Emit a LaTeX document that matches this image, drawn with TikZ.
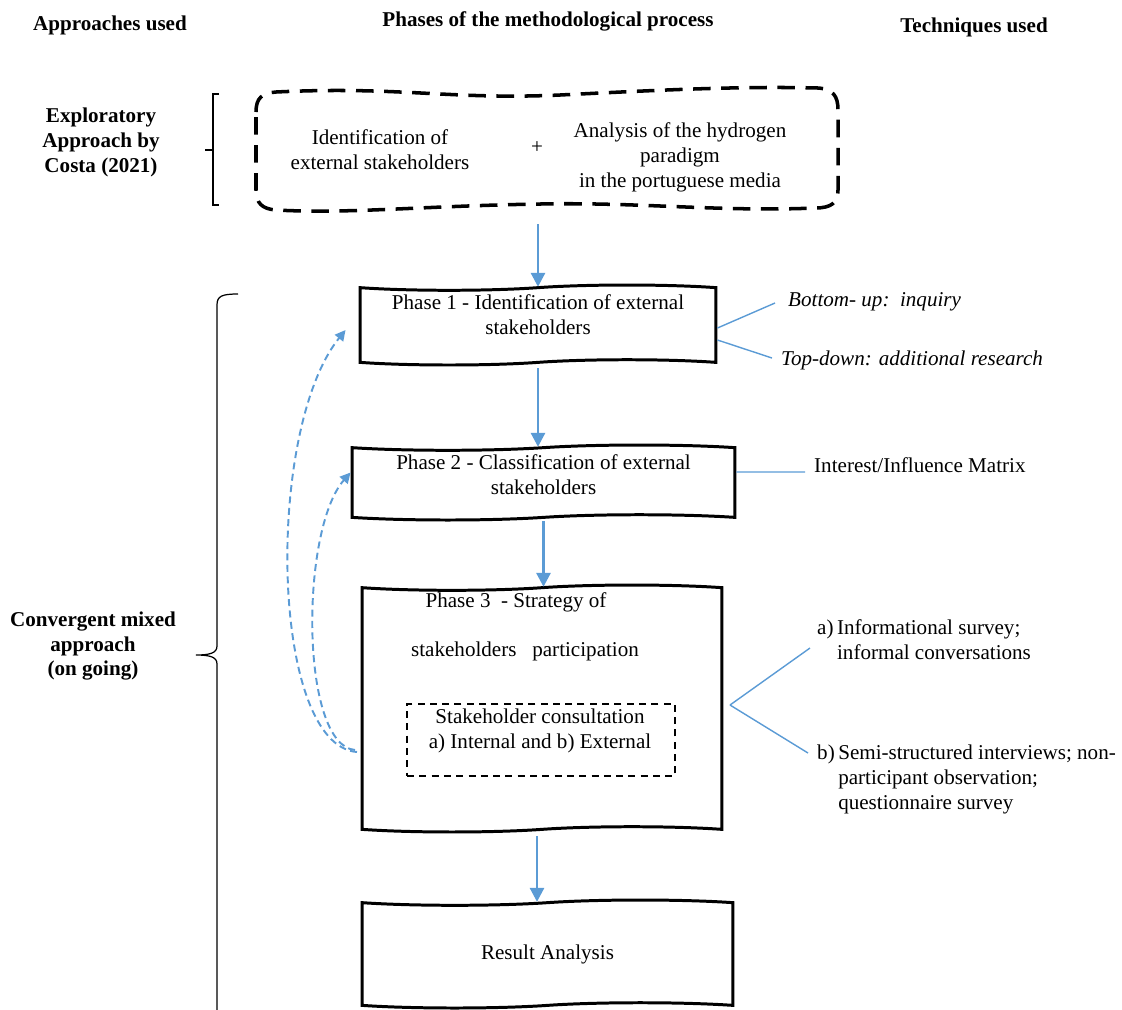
\documentclass[tikz,border=0pt]{standalone}
\usepackage{fontspec}
\setmainfont{Liberation Serif}
\usetikzlibrary{arrows.meta,shapes.symbols,positioning,calc}
\definecolor{flowblue}{RGB}{91,155,213}

\begin{document}
\begin{tikzpicture}[x=0.02cm,y=-0.02cm,font=\fontsize{12}{14.2}\selectfont]

\tikzset{wave box/.style={
    tape, draw, line width=1.7pt,
    tape bend top=in and out, tape bend bottom=in and out,
    tape bend height=3pt,
    minimum width=#1, inner sep=0pt
  },
  head/.style={font=\fontsize{12}{14.2}\selectfont\bfseries, align=center},
  blue arrow/.style={draw=flowblue, line width=1.6pt,
    -{Triangle[width=8pt,length=8pt]}},
  tech line/.style={draw=flowblue, line width=0.8pt},
  feedback/.style={draw=flowblue, line width=1.1pt, dash pattern=on 4pt off 2.5pt,
    -{Triangle[width=6pt,length=6pt]}},
  tech/.style={anchor=west, align=left}
}

\useasboundingbox (0,0) rectangle (1122,1009);

% column headers
\node[head] (hApp) at (110,25) {Approaches used};
\node[head] (hPha) at (548,21) {Phases of the methodological process};
\node[head] (hTec) at (974,27) {Techniques used};

% approaches
\node[head] (expl) at (101,142) {Exploratory\\Approach by\\Costa (2021)};
\node[head] (conv) at (93,646) {Convergent mixed\\approach\\(on going)};
\draw[line width=0.7pt] (219,94) -- (213,94) -- (213,205) -- (219,205);
\draw[line width=0.7pt] (213,150) -- (205,150);
\draw[line width=0.7pt] (238,294) .. controls (222,294) and (217,296) .. (217,305)
  -- (217,646) .. controls (217,653) and (210,655) .. (196,655)
  .. controls (210,655) and (217,657) .. (217,664) -- (217,1012);

% exploratory phase
\node[minimum width=11.66cm, minimum height=2.48cm] (expBox) at (546.5,150) {};
\draw[line width=2pt, dash pattern=on 10pt off 6pt]
  (256,112) .. controls (256,98) and (262,93) .. (276,92)
  .. controls (400,86) and (450,100) .. (560,95)
  .. controls (660,90) and (740,86) .. (818,88)
  .. controls (833,89) and (838,96) .. (838,110) -- (838,190)
  .. controls (838,203) and (831,208) .. (815,208)
  .. controls (720,212) and (640,202) .. (540,204)
  .. controls (420,206) and (350,214) .. (276,210)
  .. controls (262,209) and (256,203) .. (256,190) -- cycle;
\node[align=center] (idt) at (380,150) {Identification of\\external stakeholders};
\node (plus) at (537,148) {+};
\node[align=center] (ahp) at (680,157) {Analysis of the hydrogen\\paradigm\\in the portuguese media};

% phases
\node[wave box=7.12cm, minimum height=1.6cm] (ph1) at (538,325) {};
\node[align=center, below=1pt of ph1.north] (ph1t) {Phase 1 - Identification of external\\stakeholders};
\node[wave box=7.66cm, minimum height=1.5cm] (ph2) at (543.5,482.5) {};
\node[align=center, below=1pt of ph2.north] (ph2t) {Phase 2 - Classification of external\\stakeholders};
\node[wave box=7.2cm, minimum height=4.94cm] (ph3) at (542,708.5) {};
\node (ph3a) at (516,602) {Phase 3\ \ - Strategy of};
\node (ph3b) at (525,651) {stakeholders\ \ \ participation};
\node[draw, line width=0.8pt, dash pattern=on 4pt off 3pt, minimum width=5.36cm,
  minimum height=1.44cm] (cons) at (541,740) {};
\node[align=center] (consT) at (540,731) {Stakeholder consultation\\a) Internal and b) External};
\node[wave box=7.42cm, minimum height=2.16cm] (res) at (547.5,954) {Result Analysis};

% flow
\draw[blue arrow, shorten <=0.24cm] (expBox.south -| ph1.north) -- (ph1.north);
\draw[blue arrow, shorten <=0.1cm] (ph1.south) -- (ph1.south |- ph2.north);
\draw[blue arrow, shorten <=0.06cm] (ph2.south) -- (ph2.south |- ph3.north);
\draw[blue arrow, shorten <=0.12cm] ([xshift=-0.1cm]ph3.south) -- ([xshift=-0.1cm]ph3.south |- res.north);

% feedback loops
\coordinate (fbOut) at (357,752);
\coordinate (fbIn) at (355,750);
\draw[feedback] (fbOut) .. controls (270,745) and (265,430) .. ([xshift=-0.26cm,yshift=-0.1cm]ph1.west);
\draw[feedback] (fbIn) .. controls (300,745) and (300,530) .. ([xshift=0cm,yshift=0.2cm]ph2.west);

% techniques
\node[tech, font=\fontsize{12}{14.2}\selectfont\itshape] (bu) at (782,302) {Bottom- up:\ \ inquiry};
\node[tech, font=\fontsize{12}{14.2}\selectfont\itshape] (td) at (775,360) {Top-down: additional research};
\draw[tech line] ([yshift=-0.06cm]ph1.east) -- ([xshift=-0.14cm]bu.west |- 0,303);
\draw[tech line] ([yshift=-0.3cm]ph1.east) -- ([xshift=-0.06cm]td.west |- 0,358);

\node[tech] (iim) at (808,465) {Interest/Influence Matrix};
\draw[tech line] ([yshift=0.21cm]ph2.east) -- ([xshift=-0.06cm]iim.west |- 0,472);

\node[tech, anchor=north west] (ta) at (811,611)
  {\begin{tabular}{@{}l@{\,}l@{}}a) & Informational survey;\\ & informal conversations\end{tabular}};
\node[tech, anchor=north west] (tb) at (811,736)
  {\begin{tabular}{@{}l@{\,}l@{}}b) & Semi-structured interviews; non-\\ & participant observation;\\ & questionnaire survey\end{tabular}};
\coordinate (fork) at (730,705);
\coordinate (aEnd) at (810,648);
\coordinate (bEnd) at (808,753);
\draw[tech line] (fork) -- (aEnd);
\draw[tech line] (fork) -- (bEnd);

\end{tikzpicture}
\end{document}
